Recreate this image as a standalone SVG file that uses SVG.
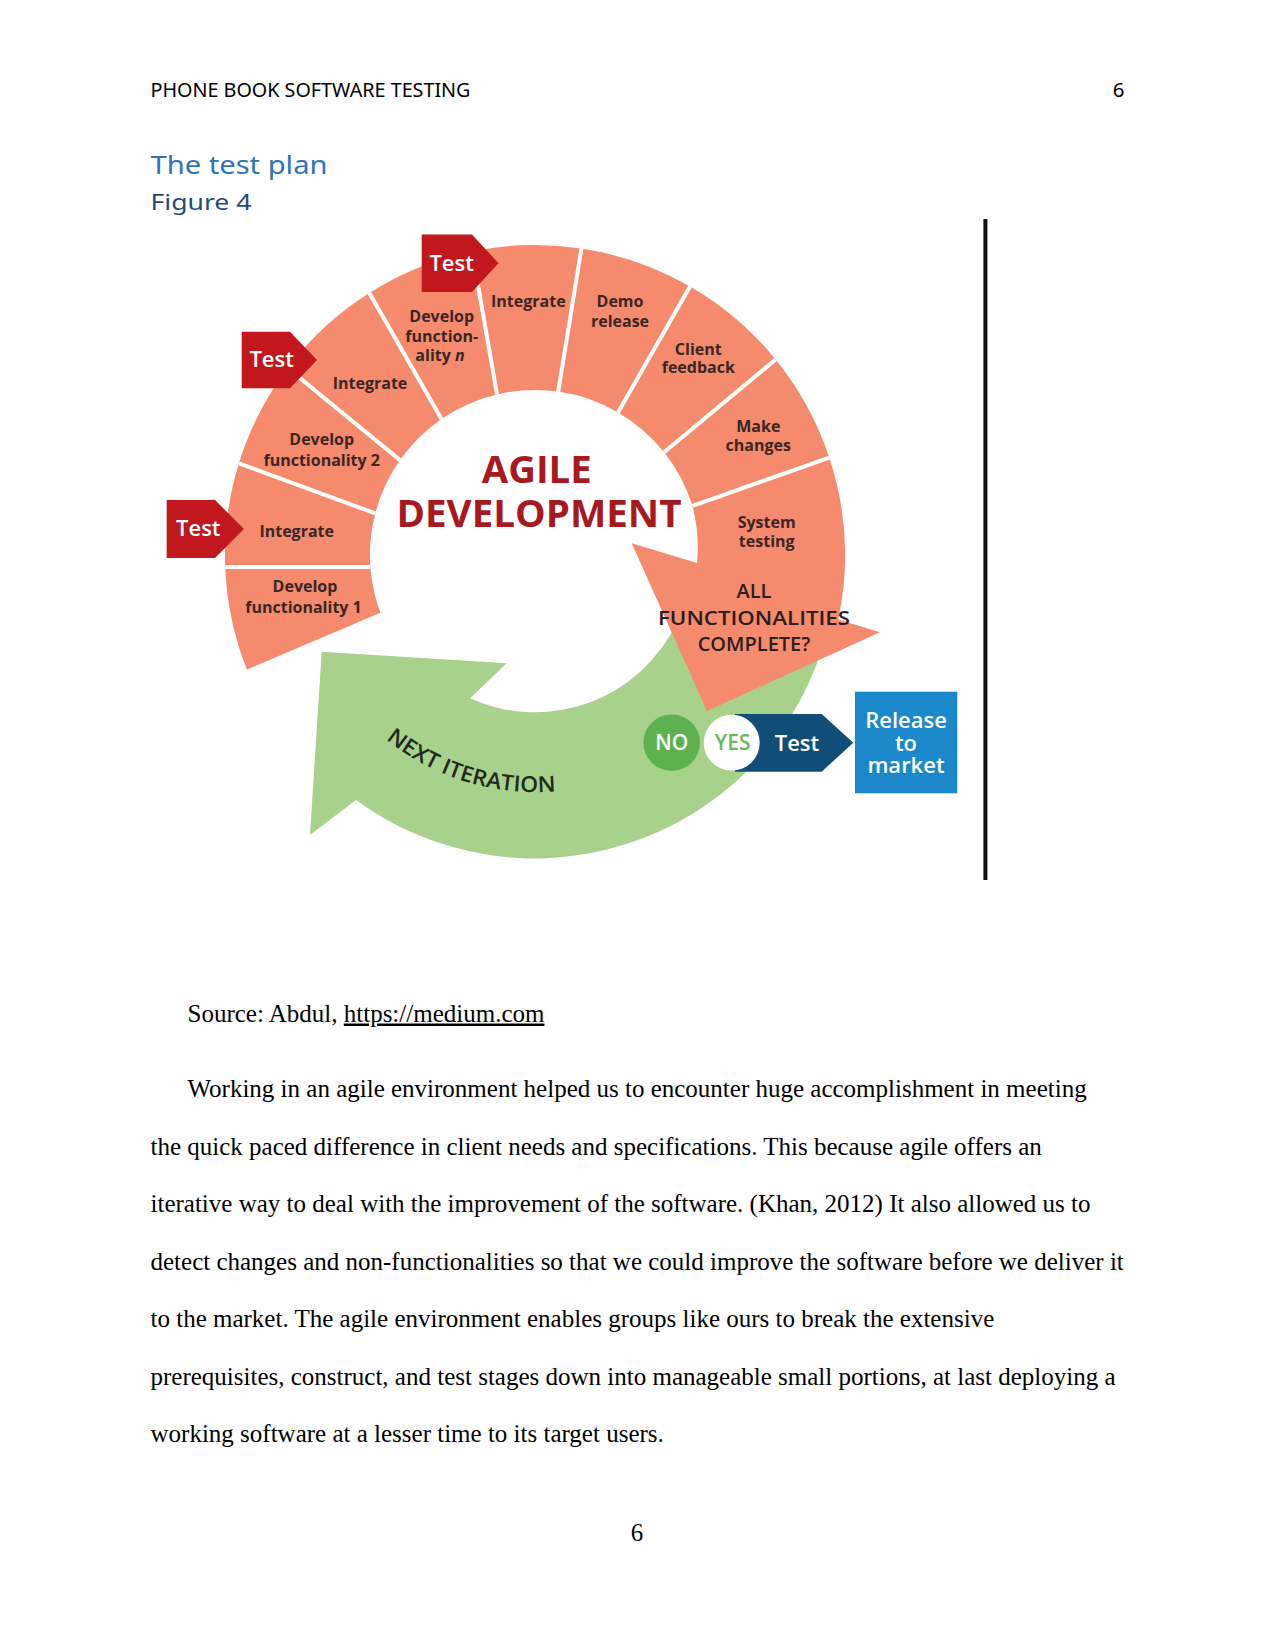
<svg xmlns="http://www.w3.org/2000/svg" width="1275" height="1651" viewBox="0 0 1275 1651">
<style>
.ring{fill:#F68A6C}
.divl{stroke:#FFFFFF;stroke-width:4;fill:none}
.flag{fill:#C1171D}
.lbl{font-family:'Open Sans','Noto Sans',sans-serif;font-weight:700;font-size:16px;fill:#3A2626;text-anchor:middle}
.flt{font-family:'Open Sans','Noto Sans',sans-serif;font-weight:600;font-size:22px;fill:#FFFFFF;text-anchor:middle}
.q{font-family:'Open Sans','Noto Sans',sans-serif;font-weight:600;font-size:20px;fill:#2A1E1E;text-anchor:middle}
.agile{font-family:'Open Sans','Noto Sans',sans-serif;font-weight:700;font-size:38px;fill:#A8191E;text-anchor:middle}
.body{font-family:'Liberation Serif','Times New Roman',serif;font-size:25px;fill:#000000}
.hdr{font-family:'Noto Sans','Open Sans',sans-serif;fill:#000000}
</style>
<rect x="0" y="0" width="1275" height="1651" fill="#FFFFFF"/>

<g id="page-header">
<text class="hdr" x="150.5" y="96.5" font-size="20.5" textLength="320" lengthAdjust="spacingAndGlyphs">PHONE BOOK SOFTWARE TESTING</text>
<text class="hdr" x="1124.5" y="96.5" font-size="20.5" text-anchor="end">6</text>
<text class="hdr" x="150.5" y="174" font-size="25" style="fill:#2E74B5" textLength="177" lengthAdjust="spacingAndGlyphs">The test plan</text>
<text class="hdr" x="150.5" y="210" font-size="22" style="fill:#1F4D78" textLength="101" lengthAdjust="spacingAndGlyphs">Figure 4</text>
</g>

<line x1="985.4" y1="219" x2="985.4" y2="880" stroke="#111111" stroke-width="4"/>

<g id="next-iteration">
<path d="M 321.7 651.7 L 506.7 663.3 L 470 698.3 A 157 157 0 0 0 677.3 621.4 L 822.2 648.3 A 302 302 0 0 1 356 800 L 310 835 Z" fill="#A8D18C"/>
<path id="niPath" d="M 385.9 739.2 A 237 237 0 0 0 576.1 788.4" fill="none"/>
<text font-family="'Open Sans','Noto Sans',sans-serif" font-weight="600" font-size="22" fill="#1E2A1A"><textPath href="#niPath" textLength="182" lengthAdjust="spacingAndGlyphs">NEXT ITERATION</textPath></text>
</g>

<g id="ring">
<g id="sec-devf1"><path class="ring" d="M 247.0 669.6 A 310 310 0 0 1 225.2 566.9 L 370.4 567.1 A 165 165 0 0 0 380.4 612.8 Z"/>
<text class="lbl" x="305" y="591.5">Develop</text><text class="lbl" x="303.5" y="613">functionality 1</text></g>
<g id="sec-int1"><path class="ring" d="M 225.2 566.9 A 310 310 0 0 1 238.9 463.3 L 375.3 513.4 A 165 165 0 0 0 370.4 567.1 Z"/>
<text class="lbl" x="296.7" y="536.5">Integrate</text></g>
<g id="sec-devf2"><path class="ring" d="M 238.9 463.3 A 310 310 0 0 1 287.7 368.0 L 400.0 460.1 A 165 165 0 0 0 375.3 513.4 Z"/>
<text class="lbl" x="321.7" y="444.5">Develop</text><text class="lbl" x="321.7" y="466">functionality 2</text></g>
<g id="sec-int2"><path class="ring" d="M 287.7 368.0 A 310 310 0 0 1 369.3 293.0 L 441.5 419.0 A 165 165 0 0 0 400.0 460.1 Z"/>
<text class="lbl" x="370" y="389.3">Integrate</text></g>
<g id="sec-devfn"><path class="ring" d="M 369.3 293.0 A 310 310 0 0 1 472.1 251.4 L 497.0 394.4 A 165 165 0 0 0 441.5 419.0 Z"/>
<text class="lbl" x="441.7" y="321.5">Develop</text><text class="lbl" x="441.7" y="341.5">function-</text><text class="lbl" x="440" y="361">ality <tspan font-style="italic">n</tspan></text></g>
<g id="sec-int3"><path class="ring" d="M 472.1 251.4 A 310 310 0 0 1 581.4 248.5 L 558.2 391.6 A 165 165 0 0 0 497.0 394.4 Z"/>
<text class="lbl" x="528.3" y="307.3">Integrate</text></g>
<g id="sec-demo"><path class="ring" d="M 581.4 248.5 A 310 310 0 0 1 690 286.5 L 618.0 412.4 A 165 165 0 0 0 558.2 391.6 Z"/>
<text class="lbl" x="620" y="307.3">Demo</text><text class="lbl" x="620" y="327.3">release</text></g>
<g id="sec-client"><path class="ring" d="M 690 286.5 A 310 310 0 0 1 775.6 359.5 L 664.1 452.3 A 165 165 0 0 0 618.0 412.4 Z"/>
<text class="lbl" x="698.3" y="355">Client</text><text class="lbl" x="698.3" y="373.3">feedback</text></g>
<g id="sec-make"><path class="ring" d="M 775.6 359.5 A 310 310 0 0 1 829.3 457.7 L 692.5 505.9 A 165 165 0 0 0 664.1 452.3 Z"/>
<text class="lbl" x="758.3" y="431.7">Make</text><text class="lbl" x="758.3" y="450.5">changes</text></g>
<g id="sec-system"><path class="ring" d="M 829.3 457.7 A 310 310 0 0 1 838.2 619.5 L 880 632.3 L 707 711 L 631.7 543.3 L 697 563 A 165 165 0 0 0 692.5 505.9 Z"/>
<text class="lbl" x="766.7" y="528.3">System</text><text class="lbl" x="766.7" y="547.3">testing</text>
<text class="q" x="754" y="597.5">ALL</text>
<text class="q" x="754" y="625" textLength="192" lengthAdjust="spacingAndGlyphs">FUNCTIONALITIES</text>
<text class="q" x="754" y="651">COMPLETE?</text></g>
</g>

<g id="dividers">
<line class="divl" x1="370.4" y1="567.1" x2="225.2" y2="566.9"/>
<line class="divl" x1="375.3" y1="513.4" x2="238.9" y2="463.3"/>
<line class="divl" x1="400.0" y1="460.1" x2="287.7" y2="368.0"/>
<line class="divl" x1="441.5" y1="419.0" x2="369.3" y2="293.0"/>
<line class="divl" x1="497.0" y1="394.4" x2="472.1" y2="251.4"/>
<line class="divl" x1="558.2" y1="391.6" x2="581.4" y2="248.5"/>
<line class="divl" x1="618.0" y1="412.4" x2="690" y2="286.5"/>
<line class="divl" x1="664.1" y1="452.3" x2="775.6" y2="359.5"/>
<line class="divl" x1="692.5" y1="505.9" x2="829.3" y2="457.7"/>
</g>

<g id="center-title">
<text class="agile" x="536.7" y="482.5" textLength="110" lengthAdjust="spacingAndGlyphs">AGILE</text>
<text class="agile" x="539" y="527" textLength="285" lengthAdjust="spacingAndGlyphs">DEVELOPMENT</text>
</g>

<g id="test-flag-1"><path class="flag" d="M 166.7 500 L 215 500 L 244 529 L 215 558 L 166.7 558 Z"/><text class="flt" x="198.3" y="536.3">Test</text></g>
<g id="test-flag-2"><path class="flag" d="M 241.7 331.7 L 290 331.7 L 317 360 L 290 388.3 L 241.7 388.3 Z"/><text class="flt" x="271.7" y="367.3">Test</text></g>
<g id="test-flag-3"><path class="flag" d="M 421.7 234.5 L 472 234.5 L 498.5 263.3 L 472 292 L 421.7 292 Z"/><text class="flt" x="451.7" y="271.3">Test</text></g>

<g id="test-final"><path d="M 735 714 L 821.7 714 L 853.3 742.7 L 821.7 771.7 L 735 771.7 Z" fill="#114E77"/><text class="flt" x="797" y="751">Test</text></g>
<g id="no"><circle cx="671.7" cy="742.7" r="28.3" fill="#5DB24F"/><text class="flt" x="671.7" y="750" style="font-size:21px">NO</text></g>
<g id="yes"><circle cx="731.7" cy="742.7" r="28" fill="#FFFFFF"/><text class="flt" x="732.7" y="750" style="font-size:21px;fill:#6DB85A">YES</text></g>
<g id="release"><rect x="855" y="691.7" width="102.3" height="101.6" fill="#1B89C9"/>
<text class="flt" x="906" y="728">Release</text><text class="flt" x="906" y="751">to</text><text class="flt" x="906" y="773">market</text></g>

<g id="body-text">
<text class="body" x="187.5" y="1021.5">Source: Abdul, <tspan text-decoration="underline">https://medium.com</tspan></text>
<text class="body" x="187.5" y="1097">Working in an agile environment helped us to encounter huge accomplishment in meeting</text>
<text class="body" x="150.5" y="1154.5">the quick paced difference in client needs and specifications. This because agile offers an</text>
<text class="body" x="150.5" y="1212">iterative way to deal with the improvement of the software. (Khan, 2012) It also allowed us to</text>
<text class="body" x="150.5" y="1269.5">detect changes and non-functionalities so that we could improve the software before we deliver it</text>
<text class="body" x="150.5" y="1327">to the market. The agile environment enables groups like ours to break the extensive</text>
<text class="body" x="150.5" y="1384.5">prerequisites, construct, and test stages down into manageable small portions, at last deploying a</text>
<text class="body" x="150.5" y="1442">working software at a lesser time to its target users.</text>
<text class="body" x="637" y="1541" text-anchor="middle">6</text>
</g>
</svg>
